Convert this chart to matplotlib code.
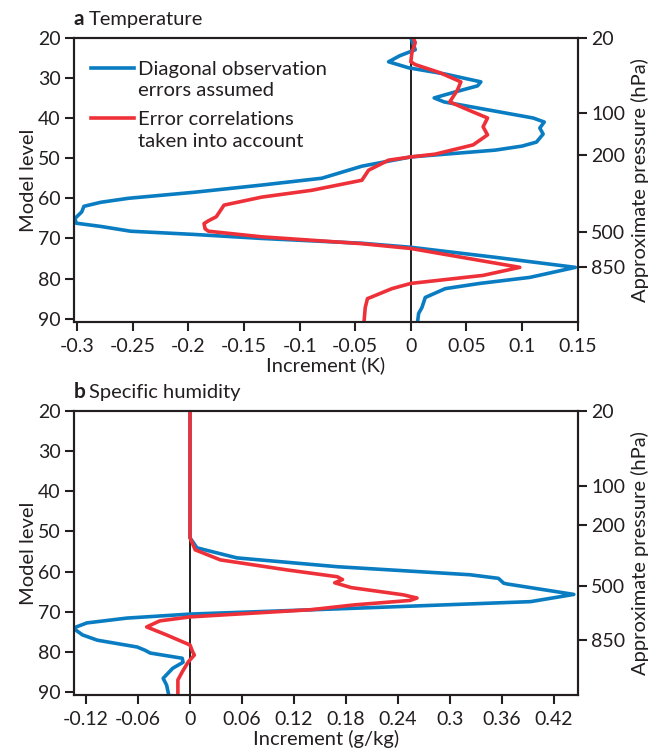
import matplotlib
matplotlib.use("Agg")
import matplotlib.pyplot as plt
from matplotlib.legend_handler import HandlerLine2D

# ---- data (model level, increment) ----
t_diag_lev = [20, 21.5, 23, 24.5, 26, 27.5, 29, 31, 32, 33.5, 35, 36, 38, 40, 41,
              42.5, 44, 46, 47, 48, 49.7, 52, 55, 56.7, 58.5, 60, 61, 62, 63.4, 65,
              66.2, 67, 68.2, 69, 70, 71.2, 72.2, 74.7, 77.2, 79.7, 81.2, 82.5, 84.7,
              87.2, 88.7, 91]
t_diag_val = [0.0, 0.002, 0.004, -0.01, -0.02, -0.002, 0.03, 0.063, 0.06, 0.04,
              0.021, 0.03, 0.07, 0.11, 0.12, 0.116, 0.119, 0.113, 0.1, 0.076, 0.0,
              -0.044, -0.08, -0.134, -0.195, -0.254, -0.279, -0.294, -0.296, -0.302,
              -0.301, -0.279, -0.252, -0.195, -0.134, -0.044, 0.0, 0.076, 0.148,
              0.107, 0.062, 0.031, 0.013, 0.01, 0.007, 0.006]

t_corr_lev = [20, 21.2, 23.7, 26, 26.7, 28.7, 31, 33, 36, 38.5, 40, 42.2, 44.2, 46.7,
              49, 49.7, 50.5, 53, 55.5, 58, 59.7, 61.7, 64.6, 65.6, 66.3, 67.6, 68.2,
              69.6, 71.3, 72.5, 77.2, 79.2, 81.2, 82.5, 85, 87.2, 90.5]
t_corr_val = [0.002, 0.004, 0.001, 0.0, 0.004, 0.026, 0.045, 0.042, 0.035, 0.056,
              0.069, 0.065, 0.069, 0.056, 0.022, 0.0, -0.02, -0.038, -0.044, -0.089,
              -0.134, -0.168, -0.175, -0.182, -0.186, -0.185, -0.182, -0.134, -0.044,
              0.0, 0.098, 0.065, 0.0, -0.017, -0.039, -0.041, -0.042]

q_diag_lev = [20, 51.6, 54.1, 56.6, 58.8, 60.8, 61.7, 62.9, 63.1, 65.7, 67.5, 69.1,
              70.6, 71.6, 72.8, 74.1, 75.8, 77.1, 78.8, 79.6, 80.3, 81.6, 82.6, 84.1,
              86.6, 88.3, 90.3]
q_diag_val = [0.0, 0.0, 0.008, 0.054, 0.17, 0.323, 0.356, 0.362, 0.366, 0.443,
              0.393, 0.196, 0.0, -0.073, -0.119, -0.135, -0.124, -0.107, -0.061,
              -0.052, -0.046, -0.009, -0.008, -0.02, -0.031, -0.027, -0.025]

q_corr_lev = [20, 51.6, 54.6, 57.1, 59.6, 61.3, 62.0, 62.8, 64.0, 65.8, 66.6, 67.2,
              68.3, 69.5, 71.3, 72.3, 73.8, 75.8, 78.3, 80.0, 80.8, 82.5, 85, 87, 90.3]
q_corr_val = [0.0, 0.0, 0.006, 0.035, 0.112, 0.17, 0.176, 0.167, 0.186, 0.246,
              0.262, 0.254, 0.19, 0.14, 0.0, -0.035, -0.05, -0.027, 0.0, 0.003,
              0.005, -0.002, -0.009, -0.014, -0.014]

level_ticks = [20, 30, 40, 50, 60, 70, 80, 90]
pressure_labels = ["20", "100", "200", "500", "850"]
t_pressure_levels = [20, 38.7, 49.2, 68.5, 77.2]
q_pressure_levels = [20, 38.6, 48.3, 63.7, 77.1]

t_xticks = [-0.3, -0.25, -0.2, -0.15, -0.1, -0.05, 0, 0.05, 0.1, 0.15]
t_xlabels = ["-0.3", "-0.25", "-0.2", "-0.15", "-0.1", "-0.05", "0", "0.05", "0.1", "0.15"]
q_xticks = [-0.12, -0.06, 0, 0.06, 0.12, 0.18, 0.24, 0.3, 0.36, 0.42]
q_xlabels = ["-0.12", "-0.06", "0", "0.06", "0.12", "0.18", "0.24", "0.3", "0.36", "0.42"]

BLUE = "#0a7dc2"
RED = "#ee3139"
INK = "#231f20"

plt.rcParams["font.family"] = ["Lato", "DejaVu Sans"]
plt.rcParams["font.size"] = 14
plt.rcParams["text.color"] = INK
plt.rcParams["axes.labelcolor"] = INK
plt.rcParams["xtick.color"] = INK
plt.rcParams["ytick.color"] = INK


class TopLine(HandlerLine2D):
    # put the legend line next to the first text line instead of the middle
    def create_artists(self, legend, orig_handle, xdescent, ydescent, width,
                       height, fontsize, trans):
        shift = 0.6 * fontsize
        return super().create_artists(legend, orig_handle, xdescent, ydescent,
                                      width, height + 2 * shift, fontsize, trans)


fig = plt.figure(figsize=(6.6, 7.54), dpi=100)
ax_t = fig.add_axes([0.112, 0.573, 0.764, 0.377])
ax_q = fig.add_axes([0.112, 0.078, 0.764, 0.377])


def style_panel(ax, xlim, xticks, xlabels, xlabel, plevels, letter, title):
    ax.axvline(0, color=INK, lw=1.4, zorder=1)
    ax.set_xlim(*xlim)
    ax.set_ylim(90.8, 20)
    ax.set_yticks(level_ticks)
    ax.set_xticks(xticks)
    ax.set_xticklabels(xlabels)
    ax.set_xlabel(xlabel, fontsize=14.5, labelpad=1)
    ax.set_ylabel("Model level", fontsize=14.5, labelpad=1)
    for s in ax.spines.values():
        s.set_linewidth(1.5)
        s.set_color(INK)
    ax.tick_params(direction="out", length=6.5, width=1.5, pad=3)
    ax.tick_params(axis="x", pad=5)

    rax = ax.twinx()
    rax.set_ylim(90.8, 20)
    rax.set_yticks(plevels)
    rax.set_yticklabels(pressure_labels)
    rax.set_ylabel("Approximate pressure (hPa)", fontsize=14.5, labelpad=4)
    for s in rax.spines.values():
        s.set_linewidth(1.5)
        s.set_color(INK)
    rax.tick_params(direction="out", length=6.5, width=1.5, pad=3)

    ax.annotate(letter, xy=(0, 1), xycoords="axes fraction", xytext=(0, 9),
                textcoords="offset points", fontweight="bold", fontsize=15,
                ha="left", va="baseline")
    ax.annotate(title, xy=(0, 1), xycoords="axes fraction", xytext=(10.5, 9),
                textcoords="offset points", fontsize=14.5, ha="left", va="baseline")


ax_t.plot(t_diag_val, t_diag_lev, color=BLUE, lw=2.6, zorder=3,
          label="Diagonal observation\nerrors assumed")
ax_t.plot(t_corr_val, t_corr_lev, color=RED, lw=2.6, zorder=4,
          label="Error correlations\ntaken into account")
style_panel(ax_t, (-0.303, 0.1505), t_xticks, t_xlabels, "Increment (K)",
            t_pressure_levels, "a", "Temperature")
leg = ax_t.legend(loc="upper left", frameon=False, fontsize=14.6, handlelength=2.1,
                  handletextpad=0.2, labelspacing=0.6, borderaxespad=0.3,
                  bbox_to_anchor=(0.006, 0.968), handler_map={plt.Line2D: TopLine()})
for txt in leg.get_texts():
    txt.set_linespacing(1.3)

ax_q.plot(q_diag_val, q_diag_lev, color=BLUE, lw=2.6, zorder=3)
ax_q.plot(q_corr_val, q_corr_lev, color=RED, lw=2.6, zorder=4)
style_panel(ax_q, (-0.134, 0.448), q_xticks, q_xlabels, "Increment (g/kg)",
            q_pressure_levels, "b", "Specific humidity")

fig.savefig("out.png", dpi=100)
